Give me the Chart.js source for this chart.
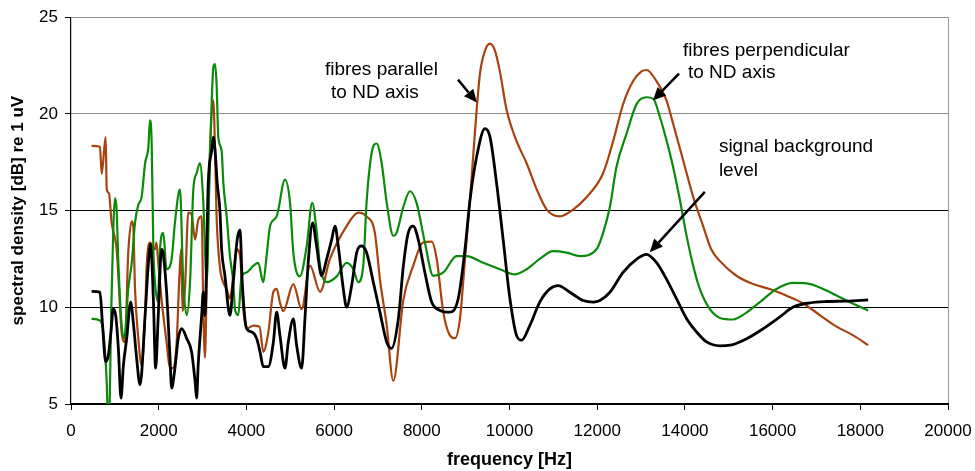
<!DOCTYPE html>
<html>
<head>
<meta charset="utf-8">
<script src="https://cdn.jsdelivr.net/npm/chart.js@4/dist/chart.umd.min.js"></script>
<style>
  html, body { margin: 0; padding: 0; background: #fff; }
  #wrap { width: 975px; height: 471px; }
</style>
</head>
<body>
<div id="wrap"><canvas id="spektrum"></canvas></div>
<script>
// fibres parallel to ND axis (brown)
const parallelFreq = [470, 660, 700, 790, 815, 865, 925, 1040, 1080, 1155, 1230, 1305, 1385, 1420, 1460, 1535, 1610, 1690, 1725, 1800,
  1915, 1950, 1990, 2070, 2180, 2255, 2335, 2410, 2470, 2510, 2545, 2600, 2675, 2750, 2830, 2900, 2980, 3015, 3055, 3095,
  3170, 3245, 3285, 3320, 3395, 3470, 3550, 3625, 3700, 3780, 3855, 3930, 4005, 4160, 4300, 4385, 4500, 4615, 4690, 4770,
  4840, 5070, 5260, 5450, 5680, 5905, 6285, 6550, 6740, 6930, 7045, 7200, 7350, 7580, 7805, 8030, 8225, 8340, 8490, 8640,
  8755, 8870, 8985, 9100, 9210, 9325, 9440, 9555, 9670, 9780, 9935, 10160, 10390, 10620, 10850, 11150, 11450, 11760, 12135, 12365,
  12590, 12820, 13010, 13125, 13350, 13580, 13730, 13960, 14190, 14415, 14600, 14795, 15175, 15555, 15935, 16320, 16700, 17075, 17460, 17840, 18180];
const parallelDb = [18.35, 18.3, 16.9, 18.8, 16.1, 15.9, 14.4, 13.0, 11.6, 8.7, 8.2, 12.8, 14.45, 14.2, 10.95, 8.4, 7.0, 9.6, 12.1, 13.35,
  13.0, 13.35, 12.3, 10.3, 8.2, 6.85, 6.85, 8.2, 11.5, 13.0, 9.8, 11.0, 14.9, 14.8, 13.5, 14.5, 14.7, 10.3, 7.4, 11.3,
  18.1, 20.7, 18.1, 14.7, 12.1, 11.3, 10.95, 10.45, 11.6, 13.0, 12.65, 9.9, 8.9, 9.05, 9.0, 7.7, 8.7, 10.8, 10.95, 10.2,
  9.8, 11.2, 9.9, 12.15, 10.8, 12.5, 14.2, 14.9, 14.7, 13.85, 11.45, 9.07, 6.2, 10.4, 12.15, 13.35, 13.4, 12.5, 9.75, 8.55,
  8.4, 9.4, 12.5, 15.6, 19.0, 22.06, 23.26, 23.63, 23.26, 22.2, 20.2, 18.6, 17.45, 16.1, 15.05, 14.7, 15.05, 15.7, 16.93, 18.6,
  20.5, 21.7, 22.2, 22.27, 21.7, 20.7, 19.5, 17.6, 15.7, 14.2, 13.0, 12.4, 11.63, 11.2, 10.95, 10.6, 10.2, 9.6, 9.0, 8.55, 8.04];

// fibres perpendicular to ND axis (green)
const perpFreq = [470, 660, 737, 813, 840, 870, 920, 1003, 1040, 1080, 1155, 1215, 1305, 1385, 1460, 1535, 1610, 1690, 1765, 1800,
  1840, 1878, 1915, 1980, 2030, 2105, 2180, 2295, 2370, 2485, 2560, 2640, 2715, 2790, 2865, 2940, 3015, 3095, 3170, 3210,
  3245, 3285, 3320, 3360, 3435, 3475, 3550, 3625, 3700, 3740, 3815, 3890, 4005, 4160, 4270, 4385, 4460, 4540, 4690, 4880,
  4995, 5070, 5220, 5375, 5500, 5600, 5680, 5830, 6060, 6285, 6440, 6550, 6665, 6740, 6855, 6970, 7085, 7200, 7350, 7425,
  7580, 7730, 7880, 8070, 8260, 8490, 8795, 9020, 9400, 9780, 10120, 10390, 10690, 10995, 11300, 11605, 11985, 12135, 12290, 12440,
  12670, 12900, 13125, 13280, 13430, 13580, 13730, 13885, 14040, 14190, 14340, 14570, 14800, 15100, 15370, 15710, 16090, 16470, 16775, 17155,
  17535, 17915, 18180];
const perpDb = [9.4, 9.32, 8.7, 6.2, 4.5, 4.5, 10.0, 15.65, 15.05, 12.3, 9.07, 8.4, 10.95, 12.3, 14.37, 15.3, 15.7, 17.45, 18.3, 19.67,
  18.47, 13.0, 11.3, 10.3, 13.0, 13.85, 11.97, 12.5, 14.37, 16.1, 11.3, 9.6, 11.3, 16.1, 16.93, 17.45, 15.56, 11.3, 18.1, 20.7,
  22.4, 22.57, 21.55, 18.8, 18.1, 16.4, 14.7, 12.65, 11.3, 9.9, 9.6, 11.6, 11.8, 12.15, 12.3, 11.3, 12.65, 14.2, 14.7, 16.6,
  15.4, 12.83, 11.6, 13.17, 15.4, 14.0, 12.15, 11.3, 11.6, 12.3, 11.97, 11.3, 12.15, 15.4, 17.96, 18.47, 17.45, 15.4, 13.7, 13.85,
  15.2, 16.0, 15.4, 13.35, 11.63, 11.8, 12.65, 12.65, 12.3, 11.97, 11.7, 11.97, 12.5, 12.9, 12.83, 12.65, 13.0, 13.85, 15.2, 17.27,
  18.98, 20.52, 20.86, 20.78, 19.84, 18.64, 17.27, 15.56, 13.68, 12.14, 10.95, 9.9, 9.45, 9.37, 9.67, 10.27, 10.95, 11.26, 11.24, 10.95,
  10.52, 10.1, 9.84];

// signal background level (black)
const backgroundFreq = [470, 660, 715, 790, 850, 912, 965, 1020, 1080, 1140, 1195, 1270, 1360, 1420, 1497, 1575, 1690, 1765, 1815, 1878,
  1930, 1990, 2065, 2100, 2180, 2255, 2295, 2370, 2445, 2525, 2640, 2750, 2830, 2865, 2900, 2980, 3015, 3055, 3130, 3210,
  3245, 3285, 3335, 3395, 3435, 3510, 3625, 3700, 3790, 3855, 3905, 4005, 4120, 4235, 4310, 4385, 4500, 4615, 4690, 4765,
  4880, 4955, 5070, 5145, 5260, 5335, 5410, 5510, 5600, 5715, 5830, 5945, 6020, 6095, 6210, 6285, 6400, 6515, 6630, 6740,
  6895, 7045, 7200, 7310, 7465, 7580, 7690, 7805, 7920, 8070, 8225, 8415, 8640, 8830, 8985, 9100, 9250, 9440, 9555, 9705,
  9855, 10010, 10160, 10275, 10465, 10690, 10920, 11110, 11375, 11680, 11910, 12060, 12290, 12590, 12900, 13125, 13350, 13580, 13810, 14040,
  14265, 14495, 14800, 15030, 15410, 15790, 16165, 16470, 16850, 17230, 17690, 18180];
const backgroundDb = [10.82, 10.78, 9.24, 7.19, 7.5, 8.73, 9.92, 9.58, 7.87, 5.3, 7.0, 8.38, 10.27, 9.24, 7.36, 5.99, 9.58, 12.3, 13.26, 10.44,
  6.85, 9.58, 13.0, 12.8, 10.78, 7.53, 5.82, 6.85, 8.38, 8.9, 8.38, 7.7, 6.16, 5.3, 7.0, 9.58, 10.78, 9.58, 16.42, 18.13,
  18.8, 18.13, 16.42, 15.05, 13.0, 11.63, 9.58, 11.3, 13.5, 14.0, 11.3, 8.9, 8.73, 8.38, 7.7, 6.93, 6.93, 8.2, 9.75, 8.55,
  6.85, 8.2, 9.4, 8.04, 6.85, 9.4, 12.32, 14.37, 13.17, 11.63, 12.49, 13.5, 14.2, 13.17, 10.95, 10.01, 11.12, 12.83, 13.17, 12.83,
  11.29, 9.75, 8.2, 7.87, 9.4, 12.15, 13.85, 14.2, 13.5, 11.8, 10.27, 9.84, 9.75, 10.44, 13.0, 15.56, 17.78, 19.24, 18.81, 16.42,
  13.5, 10.44, 8.55, 8.3, 9.07, 10.27, 10.95, 11.12, 10.78, 10.35, 10.27, 10.35, 10.78, 11.8, 12.49, 12.74, 12.32, 11.46, 10.44, 9.41,
  8.73, 8.21, 8.01, 8.04, 8.38, 8.9, 9.5, 10.01, 10.23, 10.3, 10.32, 10.38];

const xTicks = [0, 2000, 4000, 6000, 8000, 10000, 12000, 14000, 16000, 18000, 20000];
const yTicks = [5, 10, 15, 20, 25];

// annotation texts and arrows, in data coordinates
const notes = [
  { lines: ['fibres parallel', 'to ND axis'], x: [5790, 5930], y: [22.28, 21.1] },
  { lines: ['fibres perpendicular', 'to ND axis'], x: [13955, 14070], y: [23.26, 22.13] },
  { lines: ['signal background', 'level'], x: [14775, 14775], y: [18.28, 17.05] }
];
const arrows = [
  { from: [8825, 21.77], to: [9257, 20.59] },
  { from: [13865, 22.08], to: [13270, 20.69] },
  { from: [14455, 15.97], to: [13200, 12.85] }
];

function pairs(xs, ys) {
  return xs.map(function(x, i) { return { x: x, y: ys[i] }; });
}

var fontFamily = "'Liberation Sans', Arial, sans-serif";

const notesPlugin = {
  id: 'notes',
  afterDatasetsDraw: function(chart) {
    var ctx = chart.ctx;
    var xs = chart.scales.x, ys = chart.scales.y;
    ctx.save();
    ctx.fillStyle = '#000';
    ctx.strokeStyle = '#000';
    ctx.font = '19px ' + fontFamily;
    ctx.textBaseline = 'middle';
    ctx.textAlign = 'left';
    notes.forEach(function(n) {
      n.lines.forEach(function(t, i) {
        ctx.fillText(t, xs.getPixelForValue(n.x[i]), ys.getPixelForValue(n.y[i]));
      });
    });
    arrows.forEach(function(a) {
      var x1 = xs.getPixelForValue(a.from[0]), y1 = ys.getPixelForValue(a.from[1]);
      var x2 = xs.getPixelForValue(a.to[0]), y2 = ys.getPixelForValue(a.to[1]);
      var ang = Math.atan2(y2 - y1, x2 - x1);
      var head = 13, half = 6;
      var bx = x2 - head * Math.cos(ang), by = y2 - head * Math.sin(ang);
      ctx.lineWidth = 2.5;
      ctx.beginPath();
      ctx.moveTo(x1, y1);
      ctx.lineTo(bx, by);
      ctx.stroke();
      ctx.beginPath();
      ctx.moveTo(x2, y2);
      ctx.lineTo(bx + half * Math.sin(ang), by - half * Math.cos(ang));
      ctx.lineTo(bx - half * Math.sin(ang), by + half * Math.cos(ang));
      ctx.closePath();
      ctx.fill();
    });
    ctx.restore();
  }
};

const data = {
  datasets: [{
    label: 'signal background level',
    data: pairs(backgroundFreq, backgroundDb),
    borderColor: '#000000',
    borderWidth: 2.8
  }, {
    label: 'fibres perpendicular to ND axis',
    data: pairs(perpFreq, perpDb),
    borderColor: '#0a8a0a',
    borderWidth: 2.2
  }, {
    label: 'fibres parallel to ND axis',
    data: pairs(parallelFreq, parallelDb),
    borderColor: '#a8420e',
    borderWidth: 2.2
  }]
};

const config = {
  type: 'line',
  data: data,
  options: {
    responsive: true,
    maintainAspectRatio: false,
    animation: false,
    events: [],
    elements: {
      point: { radius: 0 },
      line: { cubicInterpolationMode: 'monotone', fill: false }
    },
    layout: { padding: { left: 0, right: 27, top: 14, bottom: 0 } },
    plugins: {
      legend: { display: false },
      tooltip: { enabled: false },
      title: { display: false }
    },
    scales: {
      x: {
        type: 'linear',
        min: 0,
        max: 20000,
        afterBuildTicks: function(s) { s.ticks = xTicks.map(function(v) { return { value: v }; }); },
        afterFit: function(s) { s.height = 67; s.paddingLeft = 0; s.paddingRight = 0; },
        ticks: {
          color: '#000', padding: 11, maxRotation: 0,
          font: { family: fontFamily, size: 17 },
          callback: function(v) { return String(v); }
        },
        grid: {
          drawOnChartArea: true,
          tickLength: 6,
          tickColor: '#000',
          color: function(c) { return c.tick && c.tick.value === 20000 ? '#9a9a9a' : 'rgba(0,0,0,0)'; }
        },
        border: { color: '#000', width: 1.2 },
        title: {
          display: true,
          text: 'frequency [Hz]',
          color: '#000',
          padding: { top: 0, bottom: 0 },
          font: { family: fontFamily, size: 18, weight: 'bold' }
        }
      },
      y: {
        min: 5,
        max: 25,
        afterBuildTicks: function(s) { s.ticks = yTicks.map(function(v) { return { value: v }; }); },
        afterFit: function(s) { s.width = 71; },
        ticks: {
          color: '#000', padding: 7,
          font: { family: fontFamily, size: 17 },
          callback: function(v) { return String(v); }
        },
        grid: {
          tickLength: 6,
          tickColor: '#000',
          color: function(c) { return c.tick && c.tick.value >= 20 ? '#8c8c8c' : '#000'; }
        },
        border: { color: '#000', width: 1.2 },
        title: {
          display: true,
          text: 'spectral density [dB] re 1 uV',
          color: '#000',
          padding: { top: 8, bottom: 0 },
          font: { family: fontFamily, size: 17, weight: 'bold' }
        }
      }
    }
  },
  plugins: [notesPlugin]
};

var myChart = new Chart(document.getElementById('spektrum'), config);
</script>
</body>
</html>
